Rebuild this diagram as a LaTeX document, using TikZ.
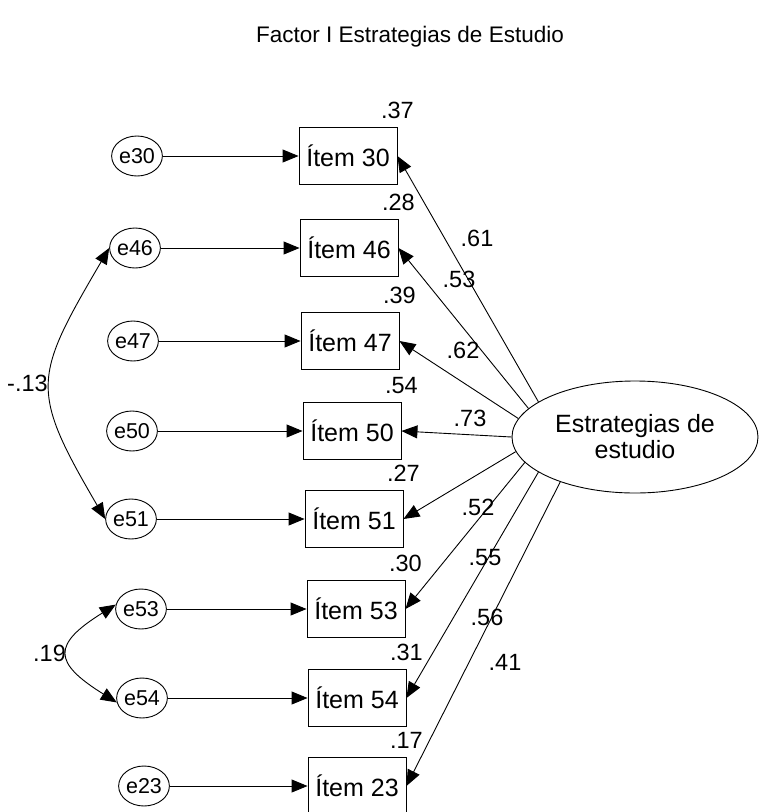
\documentclass[tikz,border=0pt]{standalone}
\usepackage{fontspec}
\setmainfont{Liberation Sans}
\usetikzlibrary{arrows.meta,positioning,shapes.geometric}
\begin{document}
\begin{tikzpicture}[
                x=1pt, y=-1pt,
                line width=0.9pt,
                font=\fontsize{25}{26}\selectfont,
                >={Triangle[length=16pt,width=13pt]},
                item/.style={draw, rectangle, minimum width=98pt, minimum height=57pt, inner sep=0pt},
                err/.style={draw, ellipse, minimum width=44pt, minimum height=40pt, inner sep=0pt, font=\fontsize{21.5}{24}\selectfont},
                num/.style={inner sep=2pt, font=\fontsize{23.5}{26}\selectfont}
                ]
                \useasboundingbox (0,0) rectangle (759,812);

                \node (title) at (410,37) [font=\fontsize{22.5}{26}\selectfont] {Factor I Estrategias de Estudio};

                \node [item] (i30) at (348,156) {Ítem 30};
                \node [item] (i46) at (349,248) {Ítem 46};
                \node [item] (i47) at (350,341) {Ítem 47};
                \node [item] (i50) at (352,431) {Ítem 50};
                \node [item] (i51) at (354,519) {Ítem 51};
                \node [item] (i53) at (356,609) {Ítem 53};
                \node [item] (i54) at (357,698) {Ítem 54};
                \node [item] (i23) at (357,786) {Ítem 23};

                \node [err] (e30) at (137,156) {e30};
                \node [err] (e46) at (135,248) {e46};
                \node [err] (e47) at (133,341) {e47};
                \node [err] (e50) at (132,431) {e50};
                \node [err] (e51) at (131,519) {e51};
                \node [err] (e53) at (141,609) {e53};
                \node [err] (e54) at (142,698) {e54};
                \node [err] (e23) at (144,786) {e23};

                \node [draw, ellipse, minimum width=246pt, minimum height=112pt, inner sep=0pt, align=center] (factor) at (635,437) {Estrategias de\\estudio};

                \node [num, above=6pt of i30.north east] (v30) {.37};
                \node [num, above=6pt of i46.north east] (v46) {.28};
                \node [num, above=6pt of i47.north east] (v47) {.39};
                \node [num, above=6pt of i50.north east] (v50) {.54};
                \node [num, above=6pt of i51.north east] (v51) {.27};
                \node [num, above=6pt of i53.north east] (v53) {.30};
                \node [num, above=6pt of i54.north east] (v54) {.31};
                \node [num, above=6pt of i23.north east] (v23) {.17};

                \draw [->] (e30) -- (i30);
                \draw [->] (e46) -- (i46);
                \draw [->] (e47) -- (i47);
                \draw [->] (e50) -- (i50);
                \draw [->] (e51) -- (i51);
                \draw [->] (e53) -- (i53);
                \draw [->] (e54) -- (i54);
                \draw [->] (e23) -- (i23);

                \draw [->] (factor.160) -- (i30.east);
                \draw [->] (factor.165.5) -- (i46.east);
                \draw [->] (factor.171.4) -- (i47.east);
                \draw [->] (factor.180) -- (i50.east);
                \draw [->] (factor.187.1) -- (i51.east);
                \draw [->] (factor.193.8) -- (i53.east);
                \draw [->] (factor.200.2) -- (i54.east);
                \draw [->] (factor.211.6) -- (i23.east);

                \node [num] (l30) at (477,238) {.61};
                \node [num] (l46) at (459,279) {.53};
                \node [num] (l47) at (463,350) {.62};
                \node [num] (l50) at (470,418) {.73};
                \node [num] (l51) at (478,507) {.52};
                \node [num] (l53) at (485,558) {.55};
                \node [num] (l54) at (487,617) {.56};
                \node [num] (l23) at (505,662) {.41};

                \draw [<->] (e46.west) .. controls +(-76,130) and +(-76,-130) .. node [num, left] {-.13} (e51.west);
                \draw [<->] (e53.170) .. controls +(-64,40) and +(-64,-40) .. node [num, left] {.19} (e54.190);
\end{tikzpicture}
\end{document}
